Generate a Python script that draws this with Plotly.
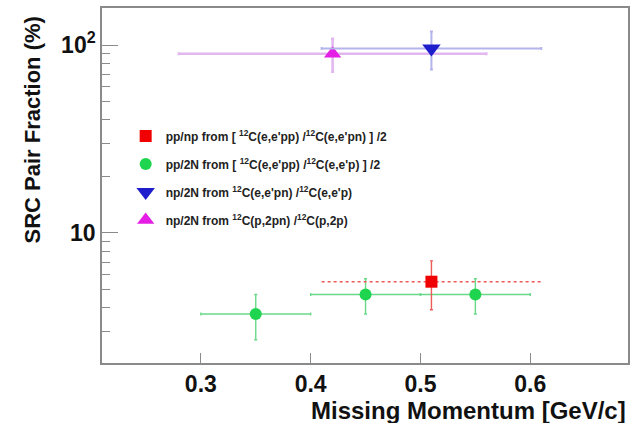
import plotly.graph_objects as go
import math

# Missing-momentum bins [GeV/c] and SRC pair fractions [%]
pp_np_x = [0.51]
pp_np_xerr = [0.10]
pp_np_y = [5.5]
pp_np_yerr = [1.6]

pp_2n_x = [0.35, 0.45, 0.55]
pp_2n_xerr = [0.05, 0.05, 0.05]
pp_2n_y = [3.7, 4.7, 4.7]
pp_2n_yerr = [1.0, 1.0, 1.0]

np_2n_e_x = [0.51]
np_2n_e_xerr = [0.10]
np_2n_e_y = [96]
np_2n_e_yerr = [22]

np_2n_p_x = [0.42]
np_2n_p_xerr = [0.14]
np_2n_p_y = [90]
np_2n_p_yerr = [18]

labels = [
    "pp/np from [ <sup>12</sup>C(e,e'pp) /<sup>12</sup>C(e,e'pn) ] /2",
    "pp/2N from [ <sup>12</sup>C(e,e'pp) /<sup>12</sup>C(e,e'p) ] /2",
    "np/2N from <sup>12</sup>C(e,e'pn) /<sup>12</sup>C(e,e'p)",
    "np/2N from <sup>12</sup>C(p,2pn) /<sup>12</sup>C(p,2p)",
]

x_ticks = [0.3, 0.4, 0.5, 0.6]
y_ticks = [10, 100]
y_ticktext = ["10", "10<sup>2</sup>"]

FONT = "Liberation Sans, Arial, Helvetica, sans-serif"
AXIS_GRAY = "#8a8a8a"
TICK_FONT = dict(family=FONT, size=23, color="#111", weight="bold")

fig = go.Figure()


def add_series(x, xerr, y, yerr, name, color, err_color, symbol, size, rank,
               err_w=1.4, dotted_x=False):
    if dotted_x:
        # horizontal bin widths drawn as dotted segments
        for xi, ei, yi in zip(x, xerr, y):
            fig.add_trace(go.Scatter(
                x=[xi - ei, xi + ei], y=[yi, yi], mode="lines",
                line=dict(color=err_color, width=err_w, dash="dot"),
                showlegend=False, hoverinfo="skip"))
    fig.add_trace(go.Scatter(
        x=x, y=y, mode="markers", name=name,
        legendgroup=name, legendrank=rank,
        marker=dict(color=color, symbol=symbol, size=size, line=dict(width=0)),
        error_x=dict(type="data", array=xerr, color=err_color, thickness=err_w,
                     width=1.5, visible=not dotted_x),
        error_y=dict(type="data", array=yerr, color=err_color, thickness=err_w, width=1.5),
    ))


add_series(pp_2n_x, pp_2n_xerr, pp_2n_y, pp_2n_yerr, labels[1],
           "#1fd44e", "#6ad88a", "circle", 12, 2)
add_series(pp_np_x, pp_np_xerr, pp_np_y, pp_np_yerr, labels[0],
           "#f00000", "#ec5a5a", "square", 12, 1, dotted_x=True)
add_series(np_2n_p_x, np_2n_p_xerr, np_2n_p_y, np_2n_p_yerr, labels[3],
           "#e51ee5", "#e2b6ee", "triangle-up", 15, 4, err_w=2.5)
add_series(np_2n_e_x, np_2n_e_xerr, np_2n_e_y, np_2n_e_yerr, labels[2],
           "#1e1ecc", "#b4b4ec", "triangle-down", 16, 3, err_w=2.0)

minor_vals = [d * 10 ** e for e in (0, 1, 2) for d in range(2, 10)]

fig.update_layout(
    width=644, height=423,
    margin=dict(l=102, r=16, t=6, b=60),
    paper_bgcolor="white", plot_bgcolor="white",
    font=dict(family=FONT, color="#111"),
    showlegend=True,
    legend=dict(
        x=0.045, y=0.68, xanchor="left", yanchor="top",
        bgcolor="rgba(0,0,0,0)", borderwidth=0,
        font=dict(family=FONT, size=12, color="#222", weight="bold"),
        tracegroupgap=9, itemsizing="trace",
    ),
    xaxis=dict(
        range=[0.21, 0.689], tickvals=x_ticks, ticktext=[f"{v:.1f}" for v in x_ticks],
        ticks="inside", ticklen=10, tickwidth=1.3, tickcolor=AXIS_GRAY,
        showline=True, linecolor=AXIS_GRAY, linewidth=1.5, mirror=True,
        showgrid=False, zeroline=False, tickfont=TICK_FONT,
    ),
    yaxis=dict(
        type="log", range=[math.log10(2.03), math.log10(157.5)],
        tickvals=y_ticks, ticktext=y_ticktext,
        ticks="inside", ticklen=16, tickwidth=1.3, tickcolor=AXIS_GRAY,
        showline=True, linecolor=AXIS_GRAY, linewidth=1.5, mirror=True,
        showgrid=False, zeroline=False, tickfont=TICK_FONT,
        minor=dict(tickvals=minor_vals, ticks="inside", ticklen=8,
                   tickwidth=1.2, tickcolor=AXIS_GRAY, showgrid=False),
    ),
    annotations=[
        dict(text="SRC Pair Fraction (%)", xref="paper", yref="paper",
             x=-0.133, y=0.655, xanchor="center", yanchor="middle",
             textangle=-90, showarrow=False,
             font=dict(family=FONT, size=22, color="#111", weight="bold")),
        dict(text="Missing Momentum [GeV/c]", xref="paper", yref="paper",
             x=1.0, y=-0.135, xanchor="right", yanchor="middle",
             showarrow=False,
             font=dict(family=FONT, size=24, color="#111", weight="bold")),
    ],
)

fig.write_html("out.html")
